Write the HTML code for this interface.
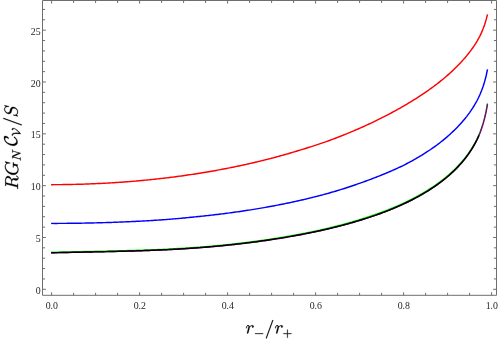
<!DOCTYPE html><html lang="en"><head><meta charset="utf-8"><title>RG_N C_V/S versus r_-/r_+</title><style>html,body{margin:0;padding:0;background:#fff}svg{display:block}text{font-family:"Liberation Serif",serif}</style></head><body><div style="will-change:transform;width:498px;height:343px">
<svg width="498" height="343" viewBox="0 0 498 343">
<rect width="498" height="343" fill="#fff"/>
<g fill="none" stroke-width="1.45" stroke-linecap="butt" stroke-linejoin="round">
<path d="M51.10 184.65 L52.60 184.65 L54.10 184.64 L55.60 184.64 L57.10 184.63 L58.60 184.62 L60.10 184.61 L61.60 184.60 L63.10 184.58 L64.60 184.56 L66.10 184.54 L67.60 184.52 L69.10 184.49 L70.60 184.46 L72.10 184.43 L73.60 184.40 L75.10 184.37 L76.60 184.33 L78.10 184.29 L79.60 184.25 L81.10 184.21 L82.60 184.16 L84.10 184.11 L85.60 184.06 L87.10 184.01 L88.60 183.96 L90.10 183.90 L91.60 183.84 L93.10 183.78 L94.60 183.71 L96.10 183.65 L97.60 183.58 L99.10 183.51 L100.60 183.44 L102.10 183.36 L103.60 183.28 L105.10 183.20 L106.60 183.12 L108.10 183.03 L109.60 182.95 L111.10 182.86 L112.60 182.77 L114.10 182.67 L115.60 182.58 L117.10 182.48 L118.60 182.37 L120.10 182.27 L121.60 182.17 L123.10 182.06 L124.60 181.95 L126.10 181.83 L127.60 181.72 L129.10 181.60 L130.60 181.48 L132.10 181.36 L133.60 181.23 L135.10 181.10 L136.60 180.97 L138.10 180.84 L139.60 180.71 L141.10 180.57 L142.60 180.43 L144.10 180.29 L145.60 180.14 L147.10 180.00 L148.60 179.85 L150.10 179.69 L151.60 179.54 L153.10 179.38 L154.60 179.22 L156.10 179.06 L157.60 178.90 L159.10 178.73 L160.60 178.56 L162.10 178.39 L163.60 178.21 L165.10 178.04 L166.60 177.86 L168.10 177.67 L169.60 177.49 L171.10 177.30 L172.60 177.11 L174.10 176.92 L175.60 176.72 L177.10 176.52 L178.60 176.32 L180.10 176.12 L181.60 175.91 L183.10 175.71 L184.60 175.50 L186.10 175.28 L187.60 175.06 L189.10 174.84 L190.60 174.62 L192.10 174.40 L193.60 174.17 L195.10 173.94 L196.60 173.71 L198.10 173.47 L199.60 173.23 L201.10 172.99 L202.60 172.75 L204.10 172.50 L205.60 172.25 L207.10 172.00 L208.60 171.74 L210.10 171.48 L211.60 171.22 L213.10 170.96 L214.60 170.69 L216.10 170.42 L217.60 170.15 L219.10 169.87 L220.60 169.59 L222.10 169.31 L223.60 169.02 L225.10 168.74 L226.60 168.45 L228.10 168.15 L229.60 167.85 L231.10 167.55 L232.60 167.25 L234.10 166.94 L235.60 166.63 L237.10 166.32 L238.60 166.01 L240.10 165.69 L241.60 165.36 L243.10 165.04 L244.60 164.71 L246.10 164.38 L247.60 164.04 L249.10 163.71 L250.60 163.36 L252.10 163.02 L253.60 162.67 L255.10 162.32 L256.60 161.96 L258.10 161.60 L259.60 161.24 L261.10 160.88 L262.60 160.51 L264.10 160.14 L265.60 159.76 L267.10 159.38 L268.60 159.00 L270.10 158.61 L271.60 158.22 L273.10 157.83 L274.60 157.43 L276.10 157.03 L277.60 156.62 L279.10 156.22 L280.60 155.80 L282.10 155.39 L283.60 154.97 L285.10 154.55 L286.60 154.12 L288.10 153.69 L289.60 153.25 L291.10 152.81 L292.60 152.37 L294.10 151.92 L295.60 151.47 L297.10 151.02 L298.60 150.56 L300.10 150.09 L301.60 149.63 L303.10 149.16 L304.60 148.70 L306.10 148.23 L307.60 147.76 L309.10 147.29 L310.60 146.82 L312.10 146.34 L313.60 145.86 L315.10 145.38 L316.60 144.89 L318.10 144.40 L319.60 143.90 L321.10 143.40 L322.60 142.89 L324.10 142.37 L325.60 141.84 L327.10 141.31 L328.60 140.77 L330.10 140.22 L331.60 139.66 L333.10 139.10 L334.60 138.53 L336.10 137.96 L337.60 137.38 L339.10 136.80 L340.60 136.21 L342.10 135.61 L343.60 135.02 L345.10 134.41 L346.60 133.80 L348.10 133.19 L349.60 132.57 L351.10 131.94 L352.60 131.31 L354.10 130.67 L355.60 130.03 L357.10 129.38 L358.60 128.73 L360.10 128.07 L361.60 127.41 L363.10 126.74 L364.60 126.06 L366.10 125.38 L367.60 124.69 L369.10 124.00 L370.60 123.29 L372.10 122.59 L373.60 121.87 L375.10 121.15 L376.60 120.43 L378.10 119.69 L379.60 118.95 L381.10 118.20 L382.60 117.45 L384.10 116.69 L385.60 115.92 L387.10 115.14 L388.60 114.35 L390.10 113.56 L391.60 112.76 L393.10 111.95 L394.60 111.13 L396.10 110.31 L397.60 109.47 L399.10 108.63 L400.60 107.78 L402.10 106.92 L403.60 106.05 L405.10 105.17 L406.60 104.29 L408.10 103.39 L409.60 102.49 L411.10 101.58 L412.60 100.66 L414.10 99.73 L415.60 98.79 L417.10 97.84 L418.60 96.87 L420.10 95.90 L421.60 94.91 L423.10 93.91 L424.60 92.89 L426.10 91.86 L427.60 90.82 L429.10 89.77 L430.60 88.69 L432.10 87.60 L433.60 86.50 L435.10 85.38 L436.60 84.23 L438.10 83.07 L439.60 81.89 L441.10 80.69 L442.60 79.47 L444.10 78.23 L445.60 76.96 L447.10 75.66 L448.60 74.34 L450.10 72.99 L451.60 71.61 L453.10 70.21 L454.60 68.77 L456.10 67.30 L457.60 65.80 L459.10 64.25 L460.60 62.67 L462.10 61.05 L463.60 59.37 L465.10 57.65 L466.60 55.87 L468.10 54.02 L469.60 52.10 L471.10 50.11 L472.60 48.03 L474.10 45.84 L475.60 43.53 L477.10 41.09 L478.60 38.46 L480.10 35.57 L481.60 32.36 L483.10 28.77 L484.60 24.68 L486.10 19.89 L487.50 14.44" stroke="#ff0000"/>
<path d="M51.10 223.41 L52.60 223.40 L54.10 223.40 L55.60 223.40 L57.10 223.40 L58.60 223.39 L60.10 223.39 L61.60 223.38 L63.10 223.37 L64.60 223.36 L66.10 223.35 L67.60 223.33 L69.10 223.32 L70.60 223.31 L72.10 223.29 L73.60 223.27 L75.10 223.25 L76.60 223.23 L78.10 223.21 L79.60 223.19 L81.10 223.16 L82.60 223.14 L84.10 223.11 L85.60 223.08 L87.10 223.05 L88.60 223.02 L90.10 222.99 L91.60 222.96 L93.10 222.93 L94.60 222.89 L96.10 222.85 L97.60 222.81 L99.10 222.77 L100.60 222.73 L102.10 222.69 L103.60 222.65 L105.10 222.60 L106.60 222.56 L108.10 222.51 L109.60 222.46 L111.10 222.41 L112.60 222.36 L114.10 222.31 L115.60 222.25 L117.10 222.20 L118.60 222.14 L120.10 222.08 L121.60 222.02 L123.10 221.96 L124.60 221.90 L126.10 221.83 L127.60 221.77 L129.10 221.70 L130.60 221.63 L132.10 221.56 L133.60 221.49 L135.10 221.42 L136.60 221.34 L138.10 221.26 L139.60 221.19 L141.10 221.11 L142.60 221.03 L144.10 220.95 L145.60 220.86 L147.10 220.78 L148.60 220.69 L150.10 220.60 L151.60 220.51 L153.10 220.42 L154.60 220.33 L156.10 220.23 L157.60 220.14 L159.10 220.04 L160.60 219.93 L162.10 219.83 L163.60 219.72 L165.10 219.60 L166.60 219.49 L168.10 219.37 L169.60 219.25 L171.10 219.13 L172.60 219.00 L174.10 218.88 L175.60 218.75 L177.10 218.62 L178.60 218.48 L180.10 218.35 L181.60 218.21 L183.10 218.07 L184.60 217.93 L186.10 217.78 L187.60 217.64 L189.10 217.49 L190.60 217.34 L192.10 217.19 L193.60 217.04 L195.10 216.89 L196.60 216.74 L198.10 216.58 L199.60 216.43 L201.10 216.27 L202.60 216.11 L204.10 215.95 L205.60 215.79 L207.10 215.62 L208.60 215.46 L210.10 215.29 L211.60 215.12 L213.10 214.94 L214.60 214.77 L216.10 214.59 L217.60 214.41 L219.10 214.23 L220.60 214.05 L222.10 213.86 L223.60 213.68 L225.10 213.49 L226.60 213.29 L228.10 213.10 L229.60 212.90 L231.10 212.70 L232.60 212.50 L234.10 212.29 L235.60 212.09 L237.10 211.88 L238.60 211.66 L240.10 211.45 L241.60 211.23 L243.10 211.01 L244.60 210.79 L246.10 210.56 L247.60 210.33 L249.10 210.10 L250.60 209.87 L252.10 209.63 L253.60 209.39 L255.10 209.15 L256.60 208.90 L258.10 208.65 L259.60 208.40 L261.10 208.14 L262.60 207.88 L264.10 207.62 L265.60 207.35 L267.10 207.08 L268.60 206.81 L270.10 206.54 L271.60 206.26 L273.10 205.98 L274.60 205.69 L276.10 205.41 L277.60 205.12 L279.10 204.82 L280.60 204.53 L282.10 204.23 L283.60 203.92 L285.10 203.62 L286.60 203.31 L288.10 203.00 L289.60 202.68 L291.10 202.36 L292.60 202.04 L294.10 201.72 L295.60 201.39 L297.10 201.06 L298.60 200.72 L300.10 200.39 L301.60 200.04 L303.10 199.70 L304.60 199.35 L306.10 199.00 L307.60 198.64 L309.10 198.28 L310.60 197.91 L312.10 197.54 L313.60 197.17 L315.10 196.79 L316.60 196.41 L318.10 196.02 L319.60 195.63 L321.10 195.23 L322.60 194.83 L324.10 194.42 L325.60 194.01 L327.10 193.60 L328.60 193.18 L330.10 192.75 L331.60 192.32 L333.10 191.89 L334.60 191.45 L336.10 191.00 L337.60 190.55 L339.10 190.09 L340.60 189.63 L342.10 189.17 L343.60 188.69 L345.10 188.22 L346.60 187.73 L348.10 187.24 L349.60 186.75 L351.10 186.25 L352.60 185.74 L354.10 185.23 L355.60 184.71 L357.10 184.18 L358.60 183.66 L360.10 183.13 L361.60 182.60 L363.10 182.06 L364.60 181.52 L366.10 180.98 L367.60 180.43 L369.10 179.88 L370.60 179.32 L372.10 178.76 L373.60 178.19 L375.10 177.61 L376.60 177.02 L378.10 176.43 L379.60 175.83 L381.10 175.22 L382.60 174.61 L384.10 173.99 L385.60 173.37 L387.10 172.75 L388.60 172.12 L390.10 171.48 L391.60 170.83 L393.10 170.18 L394.60 169.51 L396.10 168.84 L397.60 168.16 L399.10 167.46 L400.60 166.75 L402.10 166.03 L403.60 165.29 L405.10 164.53 L406.60 163.77 L408.10 162.98 L409.60 162.18 L411.10 161.36 L412.60 160.54 L414.10 159.70 L415.60 158.85 L417.10 157.98 L418.60 157.10 L420.10 156.20 L421.60 155.29 L423.10 154.36 L424.60 153.42 L426.10 152.46 L427.60 151.48 L429.10 150.49 L430.60 149.48 L432.10 148.44 L433.60 147.39 L435.10 146.31 L436.60 145.22 L438.10 144.10 L439.60 142.96 L441.10 141.79 L442.60 140.59 L444.10 139.37 L445.60 138.12 L447.10 136.84 L448.60 135.53 L450.10 134.19 L451.60 132.81 L453.10 131.40 L454.60 129.95 L456.10 128.45 L457.60 126.92 L459.10 125.34 L460.60 123.70 L462.10 122.02 L463.60 120.27 L465.10 118.46 L466.60 116.58 L468.10 114.61 L469.60 112.56 L471.10 110.41 L472.60 108.15 L474.10 105.75 L475.60 103.21 L477.10 100.48 L478.60 97.53 L480.10 94.26 L481.60 90.59 L483.10 86.44 L484.60 81.66 L486.10 75.98 L487.50 69.40" stroke="#0000ff"/>
<path d="M51.10 252.08 L52.60 252.05 L54.10 252.03 L55.60 252.00 L57.10 251.98 L58.60 251.95 L60.10 251.93 L61.60 251.90 L63.10 251.87 L64.60 251.84 L66.10 251.81 L67.60 251.78 L69.10 251.75 L70.60 251.72 L72.10 251.69 L73.60 251.66 L75.10 251.62 L76.60 251.59 L78.10 251.56 L79.60 251.53 L81.10 251.50 L82.60 251.46 L84.10 251.43 L85.60 251.40 L87.10 251.36 L88.60 251.33 L90.10 251.30 L91.60 251.27 L93.10 251.23 L94.60 251.20 L96.10 251.17 L97.60 251.14 L99.10 251.11 L100.60 251.08 L102.10 251.05 L103.60 251.02 L105.10 250.98 L106.60 250.95 L108.10 250.92 L109.60 250.89 L111.10 250.85 L112.60 250.82 L114.10 250.78 L115.60 250.75 L117.10 250.71 L118.60 250.68 L120.10 250.64 L121.60 250.60 L123.10 250.56 L124.60 250.52 L126.10 250.48 L127.60 250.44 L129.10 250.40 L130.60 250.36 L132.10 250.32 L133.60 250.27 L135.10 250.23 L136.60 250.18 L138.10 250.14 L139.60 250.09 L141.10 250.04 L142.60 249.99 L144.10 249.94 L145.60 249.89 L147.10 249.83 L148.60 249.78 L150.10 249.72 L151.60 249.66 L153.10 249.61 L154.60 249.55 L156.10 249.49 L157.60 249.42 L159.10 249.36 L160.60 249.29 L162.10 249.23 L163.60 249.16 L165.10 249.09 L166.60 249.02 L168.10 248.95 L169.60 248.87 L171.10 248.79 L172.60 248.72 L174.10 248.64 L175.60 248.56 L177.10 248.47 L178.60 248.39 L180.10 248.30 L181.60 248.21 L183.10 248.12 L184.60 248.03 L186.10 247.93 L187.60 247.84 L189.10 247.74 L190.60 247.64 L192.10 247.53 L193.60 247.43 L195.10 247.32 L196.60 247.21 L198.10 247.10 L199.60 246.99 L201.10 246.87 L202.60 246.75 L204.10 246.63 L205.60 246.51 L207.10 246.38 L208.60 246.25 L210.10 246.12 L211.60 245.99 L213.10 245.86 L214.60 245.72 L216.10 245.58 L217.60 245.44 L219.10 245.30 L220.60 245.15 L222.10 245.00 L223.60 244.85 L225.10 244.70 L226.60 244.54 L228.10 244.39 L229.60 244.23 L231.10 244.07 L232.60 243.90 L234.10 243.73 L235.60 243.57 L237.10 243.39 L238.60 243.22 L240.10 243.05 L241.60 242.87 L243.10 242.69 L244.60 242.50 L246.10 242.32 L247.60 242.13 L249.10 241.94 L250.60 241.75 L252.10 241.55 L253.60 241.36 L255.10 241.16 L256.60 240.95 L258.10 240.75 L259.60 240.54 L261.10 240.33 L262.60 240.12 L264.10 239.91 L265.60 239.69 L267.10 239.47 L268.60 239.25 L270.10 239.02 L271.60 238.79 L273.10 238.56 L274.60 238.33 L276.10 238.10 L277.60 237.86 L279.10 237.62 L280.60 237.37 L282.10 237.13 L283.60 236.88 L285.10 236.63 L286.60 236.37 L288.10 236.12 L289.60 235.86 L291.10 235.59 L292.60 235.33 L294.10 235.06 L295.60 234.79 L297.10 234.51 L298.60 234.23 L300.10 233.95 L301.60 233.67 L303.10 233.38 L304.60 233.09 L306.10 232.80 L307.60 232.50 L309.10 232.20 L310.60 231.89 L312.10 231.58 L313.60 231.27 L315.10 230.95 L316.60 230.63 L318.10 230.31 L319.60 229.98 L321.10 229.64 L322.60 229.30 L324.10 228.96 L325.60 228.62 L327.10 228.27 L328.60 227.91 L330.10 227.55 L331.60 227.19 L333.10 226.82 L334.60 226.44 L336.10 226.07 L337.60 225.68 L339.10 225.30 L340.60 224.90 L342.10 224.50 L343.60 224.10 L345.10 223.69 L346.60 223.28 L348.10 222.86 L349.60 222.43 L351.10 222.00 L352.60 221.57 L354.10 221.13 L355.60 220.69 L357.10 220.24 L358.60 219.78 L360.10 219.32 L361.60 218.86 L363.10 218.39 L364.60 217.91 L366.10 217.43 L367.60 216.94 L369.10 216.45 L370.60 215.94 L372.10 215.44 L373.60 214.92 L375.10 214.40 L376.60 213.87 L378.10 213.34 L379.60 212.79 L381.10 212.24 L382.60 211.68 L384.10 211.11 L385.60 210.54 L387.10 209.95 L388.60 209.36 L390.10 208.76 L391.60 208.15 L393.10 207.52 L394.60 206.89 L396.10 206.25 L397.60 205.60 L399.10 204.93 L400.60 204.26 L402.10 203.58 L403.60 202.88 L405.10 202.18 L406.60 201.46 L408.10 200.73 L409.60 199.99 L411.10 199.24 L412.60 198.48 L414.10 197.70 L415.60 196.91 L417.10 196.10 L418.60 195.28 L420.10 194.45 L421.60 193.60 L423.10 192.73 L424.60 191.85 L426.10 190.95 L427.60 190.03 L429.10 189.09 L430.60 188.13 L432.10 187.15 L433.60 186.15 L435.10 185.12 L436.60 184.07 L438.10 183.00 L439.60 181.90 L441.10 180.78 L442.60 179.62 L444.10 178.44 L445.60 177.22 L447.10 175.97 L448.60 174.69 L450.10 173.37 L451.60 172.00 L453.10 170.60 L454.60 169.16 L456.10 167.67 L457.60 166.13 L459.10 164.53 L460.60 162.88 L462.10 161.16 L463.60 159.38 L465.10 157.52 L466.60 155.57 L468.10 153.53 L469.60 151.39 L471.10 149.12 L472.60 146.73 L474.10 144.17 L475.60 141.44 L477.10 138.49 L478.60 135.27 L480.10 131.65 L481.60 127.56 L483.10 122.89 L484.60 117.44 L486.10 110.89 L487.50 103.21" stroke="#00ff00" stroke-width="1.2"/>
<path d="M51.10 252.78 L52.60 252.75 L54.10 252.73 L55.60 252.70 L57.10 252.68 L58.60 252.65 L60.10 252.63 L61.60 252.60 L63.10 252.57 L64.60 252.54 L66.10 252.51 L67.60 252.48 L69.10 252.45 L70.60 252.42 L72.10 252.39 L73.60 252.36 L75.10 252.32 L76.60 252.29 L78.10 252.26 L79.60 252.23 L81.10 252.20 L82.60 252.16 L84.10 252.13 L85.60 252.10 L87.10 252.06 L88.60 252.03 L90.10 252.00 L91.60 251.97 L93.10 251.93 L94.60 251.90 L96.10 251.87 L97.60 251.84 L99.10 251.81 L100.60 251.78 L102.10 251.75 L103.60 251.72 L105.10 251.68 L106.60 251.65 L108.10 251.62 L109.60 251.59 L111.10 251.55 L112.60 251.52 L114.10 251.48 L115.60 251.45 L117.10 251.41 L118.60 251.38 L120.10 251.34 L121.60 251.30 L123.10 251.26 L124.60 251.22 L126.10 251.18 L127.60 251.14 L129.10 251.10 L130.60 251.06 L132.10 251.02 L133.60 250.97 L135.10 250.93 L136.60 250.88 L138.10 250.84 L139.60 250.79 L141.10 250.74 L142.60 250.69 L144.10 250.64 L145.60 250.59 L147.10 250.53 L148.60 250.48 L150.10 250.42 L151.60 250.36 L153.10 250.31 L154.60 250.25 L156.10 250.19 L157.60 250.12 L159.10 250.06 L160.60 249.99 L162.10 249.93 L163.60 249.86 L165.10 249.79 L166.60 249.72 L168.10 249.65 L169.60 249.57 L171.10 249.49 L172.60 249.42 L174.10 249.34 L175.60 249.26 L177.10 249.17 L178.60 249.09 L180.10 249.00 L181.60 248.91 L183.10 248.82 L184.60 248.73 L186.10 248.63 L187.60 248.54 L189.10 248.44 L190.60 248.34 L192.10 248.23 L193.60 248.13 L195.10 248.02 L196.60 247.91 L198.10 247.80 L199.60 247.69 L201.10 247.57 L202.60 247.45 L204.10 247.33 L205.60 247.21 L207.10 247.08 L208.60 246.96 L210.10 246.83 L211.60 246.69 L213.10 246.56 L214.60 246.43 L216.10 246.29 L217.60 246.15 L219.10 246.01 L220.60 245.86 L222.10 245.71 L223.60 245.57 L225.10 245.41 L226.60 245.26 L228.10 245.11 L229.60 244.95 L231.10 244.79 L232.60 244.63 L234.10 244.46 L235.60 244.29 L237.10 244.13 L238.60 243.95 L240.10 243.78 L241.60 243.60 L243.10 243.43 L244.60 243.25 L246.10 243.06 L247.60 242.88 L249.10 242.69 L250.60 242.50 L252.10 242.31 L253.60 242.11 L255.10 241.91 L256.60 241.71 L258.10 241.51 L259.60 241.31 L261.10 241.10 L262.60 240.89 L264.10 240.68 L265.60 240.46 L267.10 240.24 L268.60 240.02 L270.10 239.80 L271.60 239.58 L273.10 239.35 L274.60 239.12 L276.10 238.88 L277.60 238.65 L279.10 238.41 L280.60 238.16 L282.10 237.92 L283.60 237.67 L285.10 237.42 L286.60 237.17 L288.10 236.91 L289.60 236.65 L291.10 236.39 L292.60 236.13 L294.10 235.86 L295.60 235.59 L297.10 235.31 L298.60 235.03 L300.10 234.75 L301.60 234.47 L303.10 234.18 L304.60 233.89 L306.10 233.60 L307.60 233.30 L309.10 233.00 L310.60 232.70 L312.10 232.39 L313.60 232.08 L315.10 231.76 L316.60 231.45 L318.10 231.12 L319.60 230.80 L321.10 230.47 L322.60 230.13 L324.10 229.79 L325.60 229.45 L327.10 229.10 L328.60 228.75 L330.10 228.39 L331.60 228.03 L333.10 227.67 L334.60 227.30 L336.10 226.93 L337.60 226.55 L339.10 226.16 L340.60 225.77 L342.10 225.38 L343.60 224.98 L345.10 224.58 L346.60 224.17 L348.10 223.75 L349.60 223.33 L351.10 222.91 L352.60 222.48 L354.10 222.04 L355.60 221.60 L357.10 221.16 L358.60 220.71 L360.10 220.26 L361.60 219.80 L363.10 219.33 L364.60 218.86 L366.10 218.38 L367.60 217.90 L369.10 217.41 L370.60 216.91 L372.10 216.41 L373.60 215.90 L375.10 215.39 L376.60 214.86 L378.10 214.33 L379.60 213.79 L381.10 213.25 L382.60 212.69 L384.10 212.13 L385.60 211.56 L387.10 210.98 L388.60 210.39 L390.10 209.79 L391.60 209.18 L393.10 208.56 L394.60 207.93 L396.10 207.29 L397.60 206.64 L399.10 205.98 L400.60 205.31 L402.10 204.63 L403.60 203.94 L405.10 203.23 L406.60 202.52 L408.10 201.79 L409.60 201.05 L411.10 200.30 L412.60 199.54 L414.10 198.76 L415.60 197.97 L417.10 197.16 L418.60 196.34 L420.10 195.51 L421.60 194.66 L423.10 193.79 L424.60 192.91 L426.10 192.00 L427.60 191.08 L429.10 190.14 L430.60 189.18 L432.10 188.20 L433.60 187.20 L435.10 186.18 L436.60 185.13 L438.10 184.05 L439.60 182.96 L441.10 181.83 L442.60 180.67 L444.10 179.49 L445.60 178.27 L447.10 177.02 L448.60 175.74 L450.10 174.42 L451.60 173.05 L453.10 171.65 L454.60 170.21 L456.10 168.72 L457.60 167.18 L459.10 165.58 L460.60 163.93 L462.10 162.21 L463.60 160.43 L465.10 158.57 L466.60 156.62 L468.10 154.58 L469.60 152.44 L471.10 150.17 L472.60 147.78 L474.10 145.22 L475.60 142.49 L477.10 139.54 L478.60 136.31 L480.10 132.69 L481.60 128.58 L483.10 123.88 L484.60 118.40 L486.10 111.82 L487.50 104.11" stroke="#800080"/>
<path d="M51.10 252.73 L52.60 252.70 L54.10 252.68 L55.60 252.65 L57.10 252.63 L58.60 252.60 L60.10 252.58 L61.60 252.55 L63.10 252.52 L64.60 252.49 L66.10 252.46 L67.60 252.43 L69.10 252.40 L70.60 252.37 L72.10 252.34 L73.60 252.31 L75.10 252.27 L76.60 252.24 L78.10 252.21 L79.60 252.18 L81.10 252.15 L82.60 252.11 L84.10 252.08 L85.60 252.05 L87.10 252.01 L88.60 251.98 L90.10 251.95 L91.60 251.92 L93.10 251.88 L94.60 251.85 L96.10 251.82 L97.60 251.79 L99.10 251.76 L100.60 251.73 L102.10 251.70 L103.60 251.67 L105.10 251.63 L106.60 251.60 L108.10 251.57 L109.60 251.54 L111.10 251.50 L112.60 251.47 L114.10 251.43 L115.60 251.40 L117.10 251.36 L118.60 251.33 L120.10 251.29 L121.60 251.25 L123.10 251.21 L124.60 251.17 L126.10 251.13 L127.60 251.09 L129.10 251.05 L130.60 251.01 L132.10 250.97 L133.60 250.92 L135.10 250.88 L136.60 250.83 L138.10 250.79 L139.60 250.74 L141.10 250.69 L142.60 250.64 L144.10 250.59 L145.60 250.54 L147.10 250.48 L148.60 250.43 L150.10 250.37 L151.60 250.31 L153.10 250.26 L154.60 250.20 L156.10 250.14 L157.60 250.07 L159.10 250.01 L160.60 249.94 L162.10 249.88 L163.60 249.81 L165.10 249.74 L166.60 249.67 L168.10 249.60 L169.60 249.52 L171.10 249.44 L172.60 249.37 L174.10 249.29 L175.60 249.21 L177.10 249.12 L178.60 249.04 L180.10 248.95 L181.60 248.86 L183.10 248.77 L184.60 248.68 L186.10 248.58 L187.60 248.49 L189.10 248.39 L190.60 248.29 L192.10 248.18 L193.60 248.08 L195.10 247.97 L196.60 247.86 L198.10 247.75 L199.60 247.64 L201.10 247.52 L202.60 247.40 L204.10 247.28 L205.60 247.16 L207.10 247.03 L208.60 246.91 L210.10 246.78 L211.60 246.64 L213.10 246.51 L214.60 246.38 L216.10 246.24 L217.60 246.10 L219.10 245.96 L220.60 245.81 L222.10 245.66 L223.60 245.52 L225.10 245.36 L226.60 245.21 L228.10 245.06 L229.60 244.90 L231.10 244.74 L232.60 244.58 L234.10 244.41 L235.60 244.24 L237.10 244.08 L238.60 243.90 L240.10 243.73 L241.60 243.55 L243.10 243.38 L244.60 243.20 L246.10 243.01 L247.60 242.83 L249.10 242.64 L250.60 242.45 L252.10 242.26 L253.60 242.06 L255.10 241.86 L256.60 241.66 L258.10 241.46 L259.60 241.26 L261.10 241.05 L262.60 240.84 L264.10 240.63 L265.60 240.41 L267.10 240.19 L268.60 239.97 L270.10 239.75 L271.60 239.53 L273.10 239.30 L274.60 239.07 L276.10 238.83 L277.60 238.60 L279.10 238.36 L280.60 238.11 L282.10 237.87 L283.60 237.62 L285.10 237.37 L286.60 237.12 L288.10 236.86 L289.60 236.60 L291.10 236.34 L292.60 236.08 L294.10 235.81 L295.60 235.54 L297.10 235.26 L298.60 234.98 L300.10 234.70 L301.60 234.42 L303.10 234.13 L304.60 233.84 L306.10 233.55 L307.60 233.25 L309.10 232.95 L310.60 232.65 L312.10 232.34 L313.60 232.03 L315.10 231.71 L316.60 231.40 L318.10 231.07 L319.60 230.75 L321.10 230.42 L322.60 230.08 L324.10 229.74 L325.60 229.40 L327.10 229.05 L328.60 228.70 L330.10 228.34 L331.60 227.98 L333.10 227.62 L334.60 227.25 L336.10 226.88 L337.60 226.50 L339.10 226.11 L340.60 225.72 L342.10 225.33 L343.60 224.93 L345.10 224.53 L346.60 224.12 L348.10 223.70 L349.60 223.28 L351.10 222.86 L352.60 222.43 L354.10 221.99 L355.60 221.55 L357.10 221.11 L358.60 220.66 L360.10 220.21 L361.60 219.75 L363.10 219.28 L364.60 218.81 L366.10 218.33 L367.60 217.85 L369.10 217.36 L370.60 216.86 L372.10 216.36 L373.60 215.85 L375.10 215.34 L376.60 214.81 L378.10 214.28 L379.60 213.74 L381.10 213.20 L382.60 212.64 L384.10 212.08 L385.60 211.51 L387.10 210.93 L388.60 210.34 L390.10 209.74 L391.60 209.13 L393.10 208.51 L394.60 207.88 L396.10 207.24 L397.60 206.59 L399.10 205.93 L400.60 205.26 L402.10 204.58 L403.60 203.89 L405.10 203.18 L406.60 202.47 L408.10 201.74 L409.60 201.00 L411.10 200.25 L412.60 199.49 L414.10 198.71 L415.60 197.92 L417.10 197.11 L418.60 196.29 L420.10 195.46 L421.60 194.61 L423.10 193.74 L424.60 192.86 L426.10 191.95 L427.60 191.03 L429.10 190.09 L430.60 189.13 L432.10 188.15 L433.60 187.15 L435.10 186.13 L436.60 185.08 L438.10 184.00 L439.60 182.91 L441.10 181.78 L442.60 180.62 L444.10 179.44 L445.60 178.22 L447.10 176.97 L448.60 175.69 L450.10 174.37 L451.60 173.00 L453.10 171.60 L454.60 170.16 L456.10 168.67 L457.60 167.13 L459.10 165.53 L460.60 163.88 L462.10 162.16 L463.60 160.38 L465.10 158.52 L466.60 156.57 L468.10 154.53 L469.60 152.39 L471.10 150.12 L472.60 147.73 L474.10 145.17 L475.60 142.44 L477.10 139.49 L478.60 136.26 L479.00 135.34" stroke="#000000"/>
</g>
<g stroke="#6e6e6e" stroke-width="1" fill="none" stroke-linejoin="round">
<rect x="42.5" y="0.5" width="454.0" height="294.8"/>
<path d="M51.60 295.3 v-3.1 M51.60 0.5 v3.1 M73.60 295.3 v-2.5 M73.60 0.5 v2.5 M95.60 295.3 v-2.5 M95.60 0.5 v2.5 M117.60 295.3 v-2.5 M117.60 0.5 v2.5 M139.60 295.3 v-3.1 M139.60 0.5 v3.1 M161.60 295.3 v-2.5 M161.60 0.5 v2.5 M183.60 295.3 v-2.5 M183.60 0.5 v2.5 M205.60 295.3 v-2.5 M205.60 0.5 v2.5 M227.60 295.3 v-3.1 M227.60 0.5 v3.1 M249.60 295.3 v-2.5 M249.60 0.5 v2.5 M271.60 295.3 v-2.5 M271.60 0.5 v2.5 M293.60 295.3 v-2.5 M293.60 0.5 v2.5 M315.60 295.3 v-3.1 M315.60 0.5 v3.1 M337.60 295.3 v-2.5 M337.60 0.5 v2.5 M359.60 295.3 v-2.5 M359.60 0.5 v2.5 M381.60 295.3 v-2.5 M381.60 0.5 v2.5 M403.60 295.3 v-3.1 M403.60 0.5 v3.1 M425.60 295.3 v-2.5 M425.60 0.5 v2.5 M447.60 295.3 v-2.5 M447.60 0.5 v2.5 M469.60 295.3 v-2.5 M469.60 0.5 v2.5 M491.60 295.3 v-3.1 M491.60 0.5 v3.1 M42.5 289.30 h3.4 M496.5 289.30 h-3.4 M42.5 278.94 h2.6 M496.5 278.94 h-2.6 M42.5 268.57 h2.6 M496.5 268.57 h-2.6 M42.5 258.21 h2.6 M496.5 258.21 h-2.6 M42.5 247.84 h2.6 M496.5 247.84 h-2.6 M42.5 237.48 h3.4 M496.5 237.48 h-3.4 M42.5 227.11 h2.6 M496.5 227.11 h-2.6 M42.5 216.75 h2.6 M496.5 216.75 h-2.6 M42.5 206.38 h2.6 M496.5 206.38 h-2.6 M42.5 196.02 h2.6 M496.5 196.02 h-2.6 M42.5 185.65 h3.4 M496.5 185.65 h-3.4 M42.5 175.29 h2.6 M496.5 175.29 h-2.6 M42.5 164.92 h2.6 M496.5 164.92 h-2.6 M42.5 154.56 h2.6 M496.5 154.56 h-2.6 M42.5 144.19 h2.6 M496.5 144.19 h-2.6 M42.5 133.83 h3.4 M496.5 133.83 h-3.4 M42.5 123.46 h2.6 M496.5 123.46 h-2.6 M42.5 113.09 h2.6 M496.5 113.09 h-2.6 M42.5 102.73 h2.6 M496.5 102.73 h-2.6 M42.5 92.37 h2.6 M496.5 92.37 h-2.6 M42.5 82.00 h3.4 M496.5 82.00 h-3.4 M42.5 71.64 h2.6 M496.5 71.64 h-2.6 M42.5 61.27 h2.6 M496.5 61.27 h-2.6 M42.5 50.91 h2.6 M496.5 50.91 h-2.6 M42.5 40.54 h2.6 M496.5 40.54 h-2.6 M42.5 30.18 h3.4 M496.5 30.18 h-3.4 M42.5 19.81 h2.6 M496.5 19.81 h-2.6 M42.5 9.44 h2.6 M496.5 9.44 h-2.6"/>
</g>
<g font-size="10.4" text-anchor="middle" fill="#262626">
<text transform="translate(51.8,309.1) scale(0.95,1)">0.0</text>
<text transform="translate(139.8,309.1) scale(0.95,1)">0.2</text>
<text transform="translate(227.8,309.1) scale(0.95,1)">0.4</text>
<text transform="translate(315.8,309.1) scale(0.95,1)">0.6</text>
<text transform="translate(403.8,309.1) scale(0.95,1)">0.8</text>
<text transform="translate(491.8,309.1) scale(0.95,1)">1.0</text>
</g>
<g font-size="10.4" text-anchor="end" fill="#262626">
<text transform="translate(40.7,293.8) scale(0.95,1)">0</text>
<text transform="translate(40.7,242.0) scale(0.95,1)">5</text>
<text transform="translate(40.7,190.2) scale(0.95,1)">10</text>
<text transform="translate(40.7,138.3) scale(0.95,1)">15</text>
<text transform="translate(40.7,86.5) scale(0.95,1)">20</text>
<text transform="translate(40.7,34.7) scale(0.95,1)">25</text>
</g>
<g aria-label="r_-/r_+" role="img" fill="#000"><title>r−/r+</title><path transform="translate(245.56,333.30) scale(0.01860,-0.01800)" d="M436 377C436 412 404 442 353 442C288 442 244 393 225 365C217 410 181 442 134 442C88 442 69 403 60 385C42 351 29 291 29 288C29 278 41 278 41 278C51 278 52 279 58 301C75 372 95 420 131 420C148 420 162 412 162 374C162 353 159 342 146 290L88 59C85 44 79 21 79 16C79 -2 93 -11 108 -11C120 -11 138 -3 145 17C147 21 181 157 185 175L217 305C221 318 249 365 273 387C281 394 310 420 353 420C379 420 395 408 395 408C365 403 343 379 343 353C343 337 354 318 381 318C408 318 436 341 436 377Z" stroke="#000" stroke-width="0.3" vector-effect="non-scaling-stroke"/><path transform="translate(254.31,336.80) scale(0.01237,-0.01237)" d="M722 250C722 261 713 270 702 270H76C65 270 56 261 56 250C56 239 65 230 76 230H702C713 230 722 239 722 250Z" stroke="#000" stroke-width="0.3" vector-effect="non-scaling-stroke"/><path transform="translate(264.86,333.85) scale(0.01860,-0.01850)" d="M445 730C445 741 436 750 425 750C416 750 409 745 406 737L57 -223C56 -225 56 -228 56 -230C56 -241 65 -250 76 -250C85 -250 92 -245 95 -237L444 723C445 725 445 728 445 730Z" stroke="#000" stroke-width="0.3" vector-effect="non-scaling-stroke"/><path transform="translate(274.66,333.30) scale(0.01860,-0.01800)" d="M436 377C436 412 404 442 353 442C288 442 244 393 225 365C217 410 181 442 134 442C88 442 69 403 60 385C42 351 29 291 29 288C29 278 41 278 41 278C51 278 52 279 58 301C75 372 95 420 131 420C148 420 162 412 162 374C162 353 159 342 146 290L88 59C85 44 79 21 79 16C79 -2 93 -11 108 -11C120 -11 138 -3 145 17C147 21 181 157 185 175L217 305C221 318 249 365 273 387C281 394 310 420 353 420C379 420 395 408 395 408C365 403 343 379 343 353C343 337 354 318 381 318C408 318 436 341 436 377Z" stroke="#000" stroke-width="0.3" vector-effect="non-scaling-stroke"/><path transform="translate(282.61,336.80) scale(0.01237,-0.01237)" d="M722 250C722 261 713 270 702 270H409V563C409 574 400 583 389 583C378 583 369 574 369 563V270H76C65 270 56 261 56 250C56 239 65 230 76 230H369V-63C369 -74 378 -83 389 -83C400 -83 409 -74 409 -63V230H702C713 230 722 239 722 250Z" stroke="#000" stroke-width="0.3" vector-effect="non-scaling-stroke"/></g>
<g aria-label="R G_N C_V / S" role="img" fill="#000" transform="translate(18.0,188.5) rotate(-90)"><title>RG_N C_V/S</title><path transform="translate(-1.26,0.00) scale(0.01860,-0.01860)" d="M646 553C646 519 630 450 591 411C565 385 512 353 422 353H310L375 614C381 638 384 648 403 651C412 652 444 652 464 652C535 652 646 652 646 553ZM755 93C755 105 743 105 743 105C734 105 732 98 730 91C705 17 662 0 639 0C606 0 599 22 599 61C599 92 605 143 609 175C611 189 613 208 613 222C613 299 546 330 519 340C620 362 739 432 739 533C739 619 649 683 518 683H233C213 683 204 683 204 663C204 652 213 652 232 652C232 652 253 652 270 650C288 648 297 647 297 634C297 630 296 627 293 615L159 78C149 39 147 31 68 31C50 31 41 31 41 11C41 0 55 0 55 0L181 3L308 0C316 0 328 0 328 20C328 31 319 31 300 31C263 31 235 31 235 49C235 55 237 60 238 66L304 331H423C514 331 532 275 532 240C532 225 524 194 518 171C511 143 502 106 502 86C502 -22 622 -22 635 -22C720 -22 755 79 755 93Z" stroke="#000" stroke-width="0.3" vector-effect="non-scaling-stroke"/><path transform="translate(12.77,0.00) scale(0.01860,-0.01860)" d="M760 695C760 698 758 705 749 705C746 705 745 704 734 693L664 616C655 630 609 705 498 705C275 705 50 484 50 252C50 93 161 -22 323 -22C367 -22 412 -13 448 2C498 22 517 43 535 63C544 38 570 1 580 1C585 1 587 5 587 5C589 7 599 45 604 66L623 143C627 160 632 177 636 194C647 239 648 241 705 242C710 242 721 243 721 262C721 269 716 273 708 273C685 273 626 270 603 270L463 273C454 273 442 273 442 253C442 242 450 242 472 242C472 242 502 242 525 240C551 237 556 234 556 221C556 212 545 167 535 130C507 20 377 9 342 9C246 9 141 66 141 219C141 250 151 415 256 545C310 613 407 674 506 674C608 674 667 597 667 481C667 441 664 440 664 430C664 420 675 420 679 420C692 420 692 422 697 440Z" stroke="#000" stroke-width="0.3" vector-effect="non-scaling-stroke"/><path transform="translate(27.49,2.60) scale(0.01300,-0.01220)" d="M881 672C881 672 881 683 868 683C835 683 800 680 767 680C733 680 698 683 665 683C659 683 647 683 647 663C647 652 657 652 665 652C722 651 733 630 733 608C733 605 731 590 730 587L618 142L397 664C389 682 388 683 365 683H231C211 683 202 683 202 663C202 652 211 652 230 652C235 652 298 652 298 643L164 106C154 66 137 34 56 31C50 31 39 30 39 11C39 4 44 0 52 0C84 0 119 3 152 3C186 3 222 0 255 0C260 0 273 0 273 20C273 30 264 31 253 31C195 33 187 55 187 75C187 82 188 87 191 98L323 626C327 620 327 618 332 608L581 19C588 2 591 0 600 0C611 0 611 3 616 21L756 578C766 618 784 649 864 652C869 652 881 653 881 672Z" stroke="#000" stroke-width="0.3" vector-effect="non-scaling-stroke"/><path transform="translate(42.57,-0.90) scale(0.01860,-0.01860)" d="M196.8 -23.9Q149.4 -23.9 114.5 -5.6Q79.6 12.7 56.4 45.7Q33.2 78.6 22.7 118.2Q12.2 157.7 12.2 203.1Q12.2 292.5 45.2 383.5Q78.1 474.6 137.7 547.1Q197.3 619.6 279.1 662.4Q360.8 705.1 455.1 705.1H460.9Q493.7 705.1 513.9 688.5Q534.2 671.9 534.2 640.1Q534.2 612.3 518.1 574.7Q502 537.1 479 496.1Q468.3 478 446.5 464.8Q424.8 451.7 401.9 449.2H397Q390.1 452.6 390.1 456.1Q390.1 460.4 406 491.7Q421.9 522.9 433.3 550.5Q444.8 578.1 444.8 598.1Q444.8 622.6 429.4 634.3Q414.1 646 388.2 646Q314.5 646 264.4 610.8Q214.4 575.7 173.8 506.8Q140.1 448.7 120.6 381.1Q101.1 313.5 101.1 246.1Q101.1 190.9 118.7 142.3Q136.2 93.8 174.3 64.5Q212.4 35.2 270 35.2Q330.6 35.2 377.9 80.1Q384.3 86.9 404.1 113Q423.8 139.2 440.9 151.4Q458 163.6 484.9 166H490.2Q497.1 162.6 497.1 158.2Q497.1 154.3 494.1 149.9Q465.8 103 418 63Q370.1 22.9 313 -0.5Q255.9 -23.9 203.1 -23.9Z" stroke="#000" stroke-width="0.3" vector-effect="non-scaling-stroke"/><path transform="translate(52.31,2.15) scale(0.01220,-0.01220)" d="M182.1 -29.8Q181.6 -29.8 186 -4.9Q209 162.1 209 277.8Q209 337.9 203.9 393.1Q198.7 448.2 181.6 503.2Q164.6 558.1 129.6 594Q94.7 629.9 39.1 629.9Q32.2 632.8 32.2 639.2Q32.2 648.9 43 658.4Q53.7 668 69.3 674.8Q85 681.6 94.2 683.1H101.1Q212.4 683.1 249.3 568.8Q286.1 454.6 286.1 313Q286.1 216.8 271 88.9Q319.3 128.4 361.6 167Q403.8 205.6 441.7 245.4Q479.5 285.2 515.1 329.1Q540 361.3 558.8 388.7Q577.6 416 594.2 449Q610.8 481.9 610.8 503.9Q610.8 528.3 599.4 547.1Q587.9 565.9 567.9 576.4Q547.9 586.9 522.9 586.9Q516.1 586.9 516.1 605Q516.1 624 528.8 653.6Q541.5 683.1 557.1 683.1Q588.9 683.1 612.3 667Q635.7 650.9 647.5 623.8Q659.2 596.7 659.2 564.9Q659.2 492.2 613 404.3Q566.9 316.4 493.9 229.5Q420.9 142.6 342.5 71.5Q264.2 0.5 198.2 -44.9Q193.4 -47.9 189.9 -47.9Q182.1 -47.9 182.1 -29.8Z" stroke="#000" stroke-width="0.3" vector-effect="non-scaling-stroke"/><path transform="translate(62.16,-0.80) scale(0.01860,-0.01860)" d="M445 730C445 741 436 750 425 750C416 750 409 745 406 737L57 -223C56 -225 56 -228 56 -230C56 -241 65 -250 76 -250C85 -250 92 -245 95 -237L444 723C445 725 445 728 445 730Z" stroke="#000" stroke-width="0.3" vector-effect="non-scaling-stroke"/><path transform="translate(71.23,-0.50) scale(0.01860,-0.01860)" d="M645 695C645 698 643 705 634 705C629 705 628 704 616 690L568 633C542 680 490 705 425 705C298 705 178 590 178 469C178 388 231 342 282 327L389 299C426 290 481 275 481 193C481 103 399 9 301 9C237 9 126 31 126 155C126 179 131 203 132 209C133 213 134 216 134 216C134 226 127 227 122 227C117 227 115 226 112 223C108 219 52 -9 52 -12C52 -18 57 -22 63 -22C68 -22 69 -21 81 -7L130 50C173 -8 241 -22 299 -22C435 -22 553 111 553 235C553 304 519 338 504 352C481 375 466 379 377 402L310 420C283 429 249 458 249 511C249 592 329 677 424 677C507 677 568 634 568 522C568 490 564 472 564 466C564 466 564 456 576 456C586 456 587 459 591 476Z" stroke="#000" stroke-width="0.3" vector-effect="non-scaling-stroke"/></g>
</svg></div></body></html>
